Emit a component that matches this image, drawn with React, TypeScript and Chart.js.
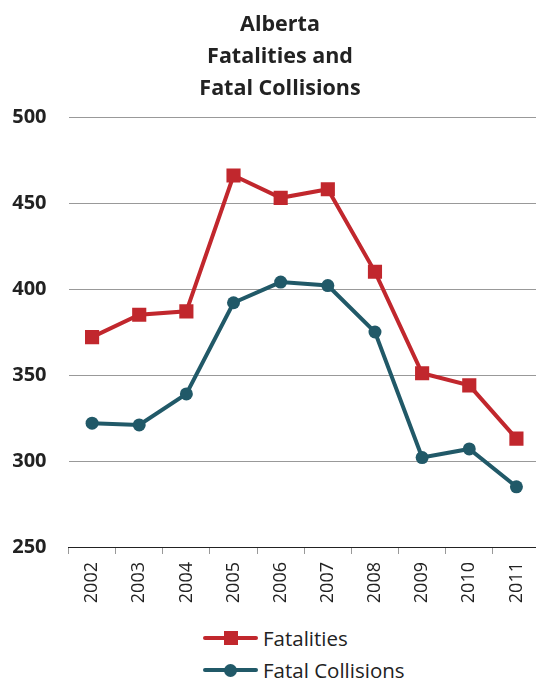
import React, { useEffect, useRef } from "react";
import { Chart, registerables } from "chart.js";

Chart.register(...registerables);

const years = ["2002", "2003", "2004", "2005", "2006", "2007", "2008", "2009", "2010", "2011"];
const fatalities = [372, 385, 387, 466, 453, 458, 410, 351, 344, 313];
const fatalCollisions = [322, 321, 339, 392, 404, 402, 375, 302, 307, 285];
const titleLines = ["Alberta", "Fatalities and", "Fatal Collisions"];
const yTicks = [250, 300, 350, 400, 450, 500];

const RED = "#C1272D";
const TEAL = "#215968";
const TEXT = "#222222";
const FONT = "'Open Sans', sans-serif";

function LegendItem({ label, color, shape, top }: { label: string; color: string; shape: "rect" | "circle"; top: number }) {
  return (
    <div style={{ position: "absolute", left: 203, top: top - 15, height: 30, display: "flex", alignItems: "center" }}>
      <div style={{ position: "relative", width: 55, height: 4, background: color, borderRadius: 2 }}>
        <div
          style={{
            position: "absolute",
            left: shape === "rect" ? 20.5 : 21,
            top: shape === "rect" ? -5 : -4.5,
            width: shape === "rect" ? 14 : 13,
            height: shape === "rect" ? 14 : 13,
            background: color,
            borderRadius: shape === "circle" ? "50%" : 0,
          }}
        />
      </div>
      <span style={{ marginLeft: 5, fontFamily: FONT, fontSize: 20.5, color: TEXT, lineHeight: "30px" }}>{label}</span>
    </div>
  );
}

export default function App() {
  const ref = useRef<HTMLCanvasElement>(null);
  useEffect(() => {
    if (!ref.current) return;
    const chart = new Chart(ref.current, {
      type: "line",
      data: {
        labels: years,
        datasets: [
          {
            label: "Fatalities",
            data: fatalities,
            borderColor: RED,
            backgroundColor: RED,
            pointBackgroundColor: RED,
            pointBorderColor: RED,
            borderWidth: 4,
            pointStyle: "rect",
            pointRadius: 10,
            pointBorderWidth: 0,
            tension: 0,
          },
          {
            label: "Fatal Collisions",
            data: fatalCollisions,
            borderColor: TEAL,
            backgroundColor: TEAL,
            pointBackgroundColor: TEAL,
            pointBorderColor: TEAL,
            borderWidth: 4,
            pointStyle: "circle",
            pointRadius: 6.5,
            pointBorderWidth: 0,
            tension: 0,
          },
        ],
      },
      options: {
        responsive: false,
        animation: false,
        devicePixelRatio: 1,
        layout: { padding: { left: 0, right: 20, top: 117, bottom: 0 } },
        plugins: {
          legend: { display: false },
          tooltip: { enabled: false },
          title: { display: false },
        },
        scales: {
          x: {
            offset: true,
            grid: {
              display: true,
              offset: true,
              drawOnChartArea: false,
              drawTicks: true,
              tickLength: 7,
              color: "#999999",
            },
            border: { display: true, color: "#222222", width: 1 },
            ticks: {
              color: TEXT,
              font: { family: FONT, size: 18 },
              maxRotation: 90,
              minRotation: 90,
              padding: 8,
              autoSkip: false,
            },
            afterFit: (scale: any) => {
              scale.height = 60;
            },
          },
          y: {
            min: 250,
            max: 500,
            afterBuildTicks: (scale: any) => {
              scale.ticks = yTicks.map((v) => ({ value: v }));
            },
            grid: { color: "#999999", lineWidth: 1, drawTicks: false, tickLength: 0 },
            border: { display: false },
            ticks: {
              color: TEXT,
              font: { family: FONT, size: 20, weight: "bold" },
              padding: 22,
            },
            afterFit: (scale: any) => {
              scale.width = 68.5;
            },
          },
        },
      },
    });
    return () => chart.destroy();
  }, []);

  return (
    <div style={{ position: "absolute", left: 0, top: 0, width: 536, height: 679, overflow: "hidden", background: "#fff" }}>
      <canvas ref={ref} width={560} height={607} style={{ display: "block" }} />
      <div
        style={{
          position: "absolute",
          left: 80,
          width: 400,
          top: 7,
          textAlign: "center",
          fontFamily: FONT,
          fontWeight: "bold",
          fontSize: 21.5,
          lineHeight: "32px",
          color: TEXT,
        }}
      >
        {titleLines.map((t) => (
          <div key={t}>{t}</div>
        ))}
      </div>
      <LegendItem label="Fatalities" color={RED} shape="rect" top={638} />
      <LegendItem label="Fatal Collisions" color={TEAL} shape="circle" top={670} />
    </div>
  );
}
